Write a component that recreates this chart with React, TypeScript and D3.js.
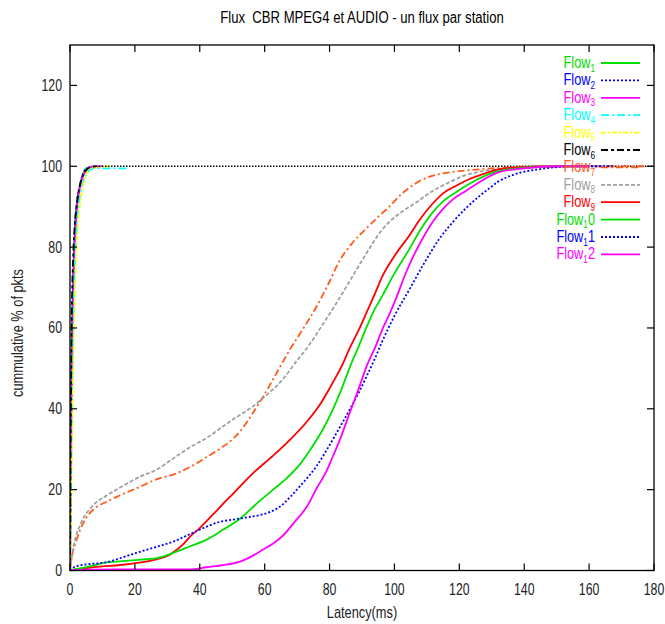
import React from "react";
import * as d3 from "d3";

const W = 665;
const H = 624;

const titleText = "Flux  CBR MPEG4 et AUDIO - un flux par station";
const xLabel = "Latency(ms)";
const yLabel = "cummulative % of pkts";

const xTicks = [0, 20, 40, 60, 80, 100, 120, 140, 160, 180];
const yTicks = [0, 20, 40, 60, 80, 100, 120];

const legendMain = ["Flow", "Flow", "Flow", "Flow", "Flow", "Flow", "Flow", "Flow", "Flow", "Flow", "Flow", "Flow"];
const legendSub = ["1", "2", "3", "4", "5", "6", "7", "8", "9", "1", "1", "1"];
const legendTail = ["", "", "", "", "", "", "", "", "", "0", "1", "2"];

// audio flows
const flow1: [number, number][] = [[0, 0], [0.2, 20], [0.5, 50], [1, 72], [1.5, 84], [2, 90], [3, 95], [4, 98], [5, 99.5], [8, 100]];
const flow2: [number, number][] = [[0, 0], [0.2, 22], [0.5, 52], [1, 73], [1.5, 84], [2, 90], [3, 95], [4, 98], [5, 99.4], [8, 100]];
const flow3: [number, number][] = [[0, 0], [0.3, 25], [0.7, 55], [1.2, 75], [2, 88], [3, 94.5], [4, 97.5], [5, 99], [6, 99.8], [10, 100]];
const flow4: [number, number][] = [[0, 0], [0.4, 25], [0.8, 50], [1.3, 70], [2, 84], [3, 92], [4, 96], [5, 98], [6, 99], [8, 99.5], [18, 99.5]];
const flow5: [number, number][] = [[0, 0], [0.5, 25], [1, 50], [1.5, 68], [2.2, 82], [3, 90], [4, 95], [5, 98], [6, 99.5], [12, 100]];
const flow6: [number, number][] = [[0, 0], [0.2, 30], [0.5, 60], [1, 78], [1.5, 86], [2, 90], [2.5, 93], [3.5, 96.8], [4.5, 98.5], [6, 99.7], [8, 100], [180, 100]];

// video flows
const flow7: [number, number][] = [[0, 0], [0.5, 3], [1, 5], [1.8, 7], [3, 9.8], [4, 11.6], [5.8, 13.9], [8, 15.6], [11, 16.9], [16, 18.8], [21.8, 20.8], [26.4, 22.5], [32, 23.8], [37, 25.6], [42, 28], [46, 30], [50, 32.4], [53, 35], [56.4, 39], [59.5, 43], [62.6, 47.3], [67.8, 54.7], [72, 60], [76, 65.3], [80, 71.5], [83, 76.5], [87, 81], [91.3, 84.6], [95, 87.5], [98.4, 90], [102, 93], [106.6, 95.8], [110, 97.2], [114.7, 98.2], [120, 98.8], [127, 99.3], [135, 99.7], [145, 100], [178, 100]];
const flow8: [number, number][] = [[0, 0], [0.5, 3], [1, 5.5], [1.8, 8.4], [3, 11], [4, 12.8], [5.8, 14.9], [8, 16.8], [11, 18.4], [16, 20.8], [21.8, 23.3], [26.4, 24.8], [32, 27.8], [37, 30.5], [42.3, 32.9], [46, 35], [50.3, 37.4], [56.4, 40.6], [60, 43], [65.6, 47.3], [70, 52], [73, 55], [78, 61], [82, 66], [86, 71.3], [91, 78], [96.3, 84.4], [101, 88], [106.6, 91], [111, 93.5], [116.8, 96], [122, 97.8], [127, 98.8], [135, 99.5], [150, 100], [165, 100]];
const flow9: [number, number][] = [[0, 0], [2, 0.3], [5, 0.6], [10, 1], [15, 1.3], [21.8, 2], [26.4, 2.7], [30, 3.6], [32.5, 4.9], [35, 6.6], [37, 8.4], [40, 10.5], [42.3, 12.4], [45, 14.6], [47.3, 16.6], [50, 18.8], [52.4, 20.8], [57, 24.5], [62.6, 28.4], [68, 32.5], [73, 36.8], [77, 41], [81, 46.5], [84, 51], [86.2, 55], [89, 59.5], [91.4, 63.8], [94, 68.5], [96.3, 72.8], [100, 77.8], [104.6, 82.9], [108, 87], [111.6, 90.6], [115, 93.3], [119, 95.2], [123, 96.8], [127, 98], [132, 99.2], [140, 99.8], [150, 100], [160, 100]];
const flow10: [number, number][] = [[0, 0], [3, 0.5], [7, 1.2], [11, 2], [16, 2.3], [21.8, 2.7], [26.4, 3], [32, 4.4], [37, 6], [42.3, 7.7], [47, 10], [52.4, 12.8], [57.6, 16.6], [62.6, 20], [67, 23], [70.8, 26.2], [74, 29.8], [78, 35], [81, 39.8], [83.5, 44.5], [86.2, 50.2], [89, 55.5], [91.4, 60.2], [93.5, 64], [96.3, 68], [100, 73.5], [104.6, 79.5], [108, 84.3], [111.6, 88.4], [115, 91.3], [119, 93.6], [123, 95.6], [127, 97.3], [132, 98.8], [140, 99.6], [150, 100], [160, 100]];
const flow11: [number, number][] = [[0, 0], [1, 0.7], [1.8, 1], [5, 1.5], [11, 2], [16, 3.2], [21, 4.5], [26.4, 5.8], [32, 7.2], [37, 9], [42.3, 10.9], [46, 12], [50.3, 12.6], [55, 13.2], [59.5, 13.9], [62, 14.6], [64.7, 15.8], [68, 18.3], [70.8, 20.8], [73, 22.8], [76, 25.8], [78.5, 29], [81, 32.4], [83, 35.2], [86.2, 39.8], [89, 44], [91.4, 48], [94, 52.5], [96.3, 56.8], [100, 63], [104.6, 69.5], [109, 75.8], [113.8, 82], [118, 86.2], [122, 89.6], [126, 92.5], [129, 94.4], [132, 96.2], [137, 98], [145, 99.3], [155, 100], [168, 100]];
const flow12: [number, number][] = [[0, 0], [5, 0.2], [15, 0.3], [25, 0.3], [38, 0.3], [42, 0.8], [47, 1.3], [52.4, 2.2], [56, 3.5], [59.5, 5.2], [62.5, 6.6], [65.6, 8.6], [69, 11.8], [73, 15.8], [76, 20.3], [79, 24.5], [81, 28.2], [83.5, 33], [86.2, 39], [89, 45], [91.4, 50.5], [94.4, 55.8], [96.3, 59.7], [98.5, 63.5], [100.6, 67.5], [103, 72.6], [105.5, 77.2], [108.6, 82], [111.5, 85.9], [114.7, 89.2], [118, 91.8], [122, 93.9], [127, 96.5], [132, 98.5], [140, 99.5], [150, 100], [160, 100]];

const seriesData = [flow1, flow2, flow3, flow4, flow5, flow6, flow7, flow8, flow9, flow10, flow11, flow12];
const seriesColors = ["#00e000", "#0000ff", "#ff00ff", "#00ffff", "#ffff00", "#000000", "#ff5a1a", "#a0a0a0", "#ff0000", "#00e000", "#0000ff", "#ff00ff"];
const seriesDash = ["", "2,2", "", "8,3,2,3", "5,2,2,2", "7,3,3,3", "7,3,2,3", "4,2", "", "", "2,2", ""];

const SX = 0.77;
const FONT = "'Liberation Sans', Arial, Helvetica, sans-serif";

export default function App() {
  const left = 70, right = 654, top = 45, bottom = 570.5;
  const x = d3.scaleLinear().domain([0, 180]).range([left, right]);
  const y = d3.scaleLinear().domain([0, 130]).range([bottom, top]);
  const line = d3.line<[number, number]>().x((d) => x(d[0])).y((d) => y(d[1])).curve(d3.curveMonotoneX);
  const tl = 7;

  const legendX0 = 601, legendX1 = 640, legendTextX = 595, legendY0 = 63, legendDY = 17.4;

  return (
    <svg width={W} height={H} style={{ position: "absolute", left: 0, top: 0, background: "#fff" }} fontFamily={FONT}>
      <rect x={0} y={0} width={W} height={H} fill="#fff" />
      <text transform={`translate(${(left + right) / 2},23) scale(0.82,1)`} textAnchor="middle" fontSize={16} fill="#000" style={{ whiteSpace: "pre" }}>{titleText}</text>

      <defs>
        <clipPath id="clip">
          <rect x={left} y={top} width={right - left} height={bottom - top} />
        </clipPath>
      </defs>

      {/* series */}
      <g clipPath="url(#clip)">
        {seriesData.map((data, i) => {
          if (i === 5) {
            const rise = data.filter((d) => d[0] <= 8);
            const plateau = data.filter((d) => d[0] >= 8);
            return (
              <g key={i}>
                <path d={line(rise) || ""} fill="none" stroke={seriesColors[i]} strokeWidth={1.8} strokeDasharray={seriesDash[i]} />
                <path d={line(plateau) || ""} fill="none" stroke={seriesColors[i]} strokeWidth={1.4} strokeDasharray="1.5,1.5" />
              </g>
            );
          }
          return <path key={i} d={line(data) || ""} fill="none" stroke={seriesColors[i]} strokeWidth={1.8} strokeDasharray={seriesDash[i] || undefined} />;
        })}
      </g>

      {/* border */}
      <rect x={left} y={top} width={right - left} height={bottom - top} fill="none" stroke="#000" strokeWidth={1.3} />

      {/* ticks */}
      {xTicks.map((t) => (
        <g key={"x" + t}>
          <line x1={x(t)} x2={x(t)} y1={bottom} y2={bottom - tl} stroke="#000" strokeWidth={1.2} />
          <line x1={x(t)} x2={x(t)} y1={top} y2={top + tl} stroke="#000" strokeWidth={1.2} />
          <text transform={`translate(${x(t)},595) scale(${SX},1)`} textAnchor="middle" fontSize={16} fill="#222">{t}</text>
        </g>
      ))}
      {yTicks.map((t) => (
        <g key={"y" + t}>
          <line x1={left} x2={left + tl} y1={y(t)} y2={y(t)} stroke="#000" strokeWidth={1.2} />
          <line x1={right} x2={right - tl} y1={y(t)} y2={y(t)} stroke="#000" strokeWidth={1.2} />
          <text transform={`translate(62,${y(t) + 5.5}) scale(${SX},1)`} textAnchor="end" fontSize={16} fill="#222">{t}</text>
        </g>
      ))}

      <text transform={`translate(${(left + right) / 2},618) scale(0.8,1)`} textAnchor="middle" fontSize={16} fill="#222">{xLabel}</text>
      <text transform={`translate(23,333) rotate(-90) scale(0.8,1)`} textAnchor="middle" fontSize={16} fill="#222">{yLabel}</text>

      {/* legend */}
      {seriesData.map((_, i) => {
        const ly = legendY0 + i * legendDY;
        return (
          <g key={"lg" + i}>
            <text transform={`translate(${legendTextX},${ly + 5}) scale(0.75,1)`} textAnchor="end" fontSize={17} fill={seriesColors[i]}>
              <tspan>{legendMain[i]}</tspan>
              <tspan dy={3.5} fontSize={11}>{legendSub[i]}</tspan>
              {legendTail[i] ? <tspan dy={-3.5}>{legendTail[i]}</tspan> : null}
            </text>
            <line x1={legendX0} x2={legendX1} y1={ly} y2={ly} stroke={seriesColors[i]} strokeWidth={1.8} strokeDasharray={seriesDash[i] || undefined} />
          </g>
        );
      })}
    </svg>
  );
}
